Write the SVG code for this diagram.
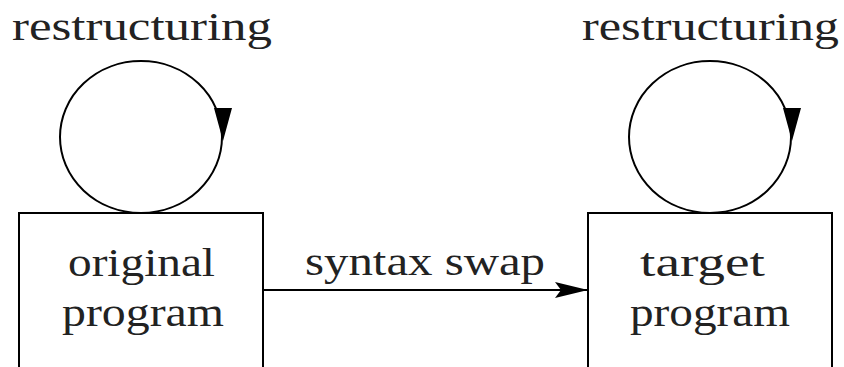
<svg xmlns="http://www.w3.org/2000/svg" width="844" height="367" viewBox="0 0 844 367">
<style>
.box{fill:#fff;stroke:#000;stroke-width:2}
.loop{fill:none;stroke:#000;stroke-width:2}
.edge{fill:none;stroke:#000;stroke-width:2}
text{font-family:"Liberation Serif","DejaVu Serif",serif;font-size:40px;fill:#222}
</style>
<defs>
<marker id="ah" markerWidth="34" markerHeight="18" refX="33" refY="9" orient="auto" markerUnits="userSpaceOnUse">
<path d="M0,1 L33,9 L0,17 L6,9 Z" fill="#000"/>
</marker>
</defs>
<g id="connectors">
<line class="edge" x1="263" y1="290" x2="588" y2="290" marker-end="url(#ah)"/>
<text x="305" y="275" textLength="240" lengthAdjust="spacingAndGlyphs">syntax swap</text>
</g>
<g id="loop-original">
<ellipse class="loop" cx="141" cy="137" rx="81" ry="76"/>
<path d="M214,108 L232,108 L223,141 Z" fill="#000"/>
<text x="12" y="40" textLength="260" lengthAdjust="spacingAndGlyphs">restructuring</text>
</g>
<g id="loop-target">
<ellipse class="loop" cx="710" cy="137" rx="81" ry="76"/>
<path d="M783,108 L801,108 L792,141 Z" fill="#000"/>
<text x="582" y="40" textLength="257" lengthAdjust="spacingAndGlyphs">restructuring</text>
</g>
<g id="original">
<rect class="box" x="19" y="213" width="244" height="170"/>
<text x="68" y="276" textLength="147" lengthAdjust="spacingAndGlyphs">original</text>
<text x="62" y="326" textLength="162" lengthAdjust="spacingAndGlyphs">program</text>
</g>
<g id="target">
<rect class="box" x="588" y="213" width="244" height="170"/>
<text x="640" y="276" textLength="125" lengthAdjust="spacingAndGlyphs">target</text>
<text x="630" y="326" textLength="160" lengthAdjust="spacingAndGlyphs">program</text>
</g>
</svg>
